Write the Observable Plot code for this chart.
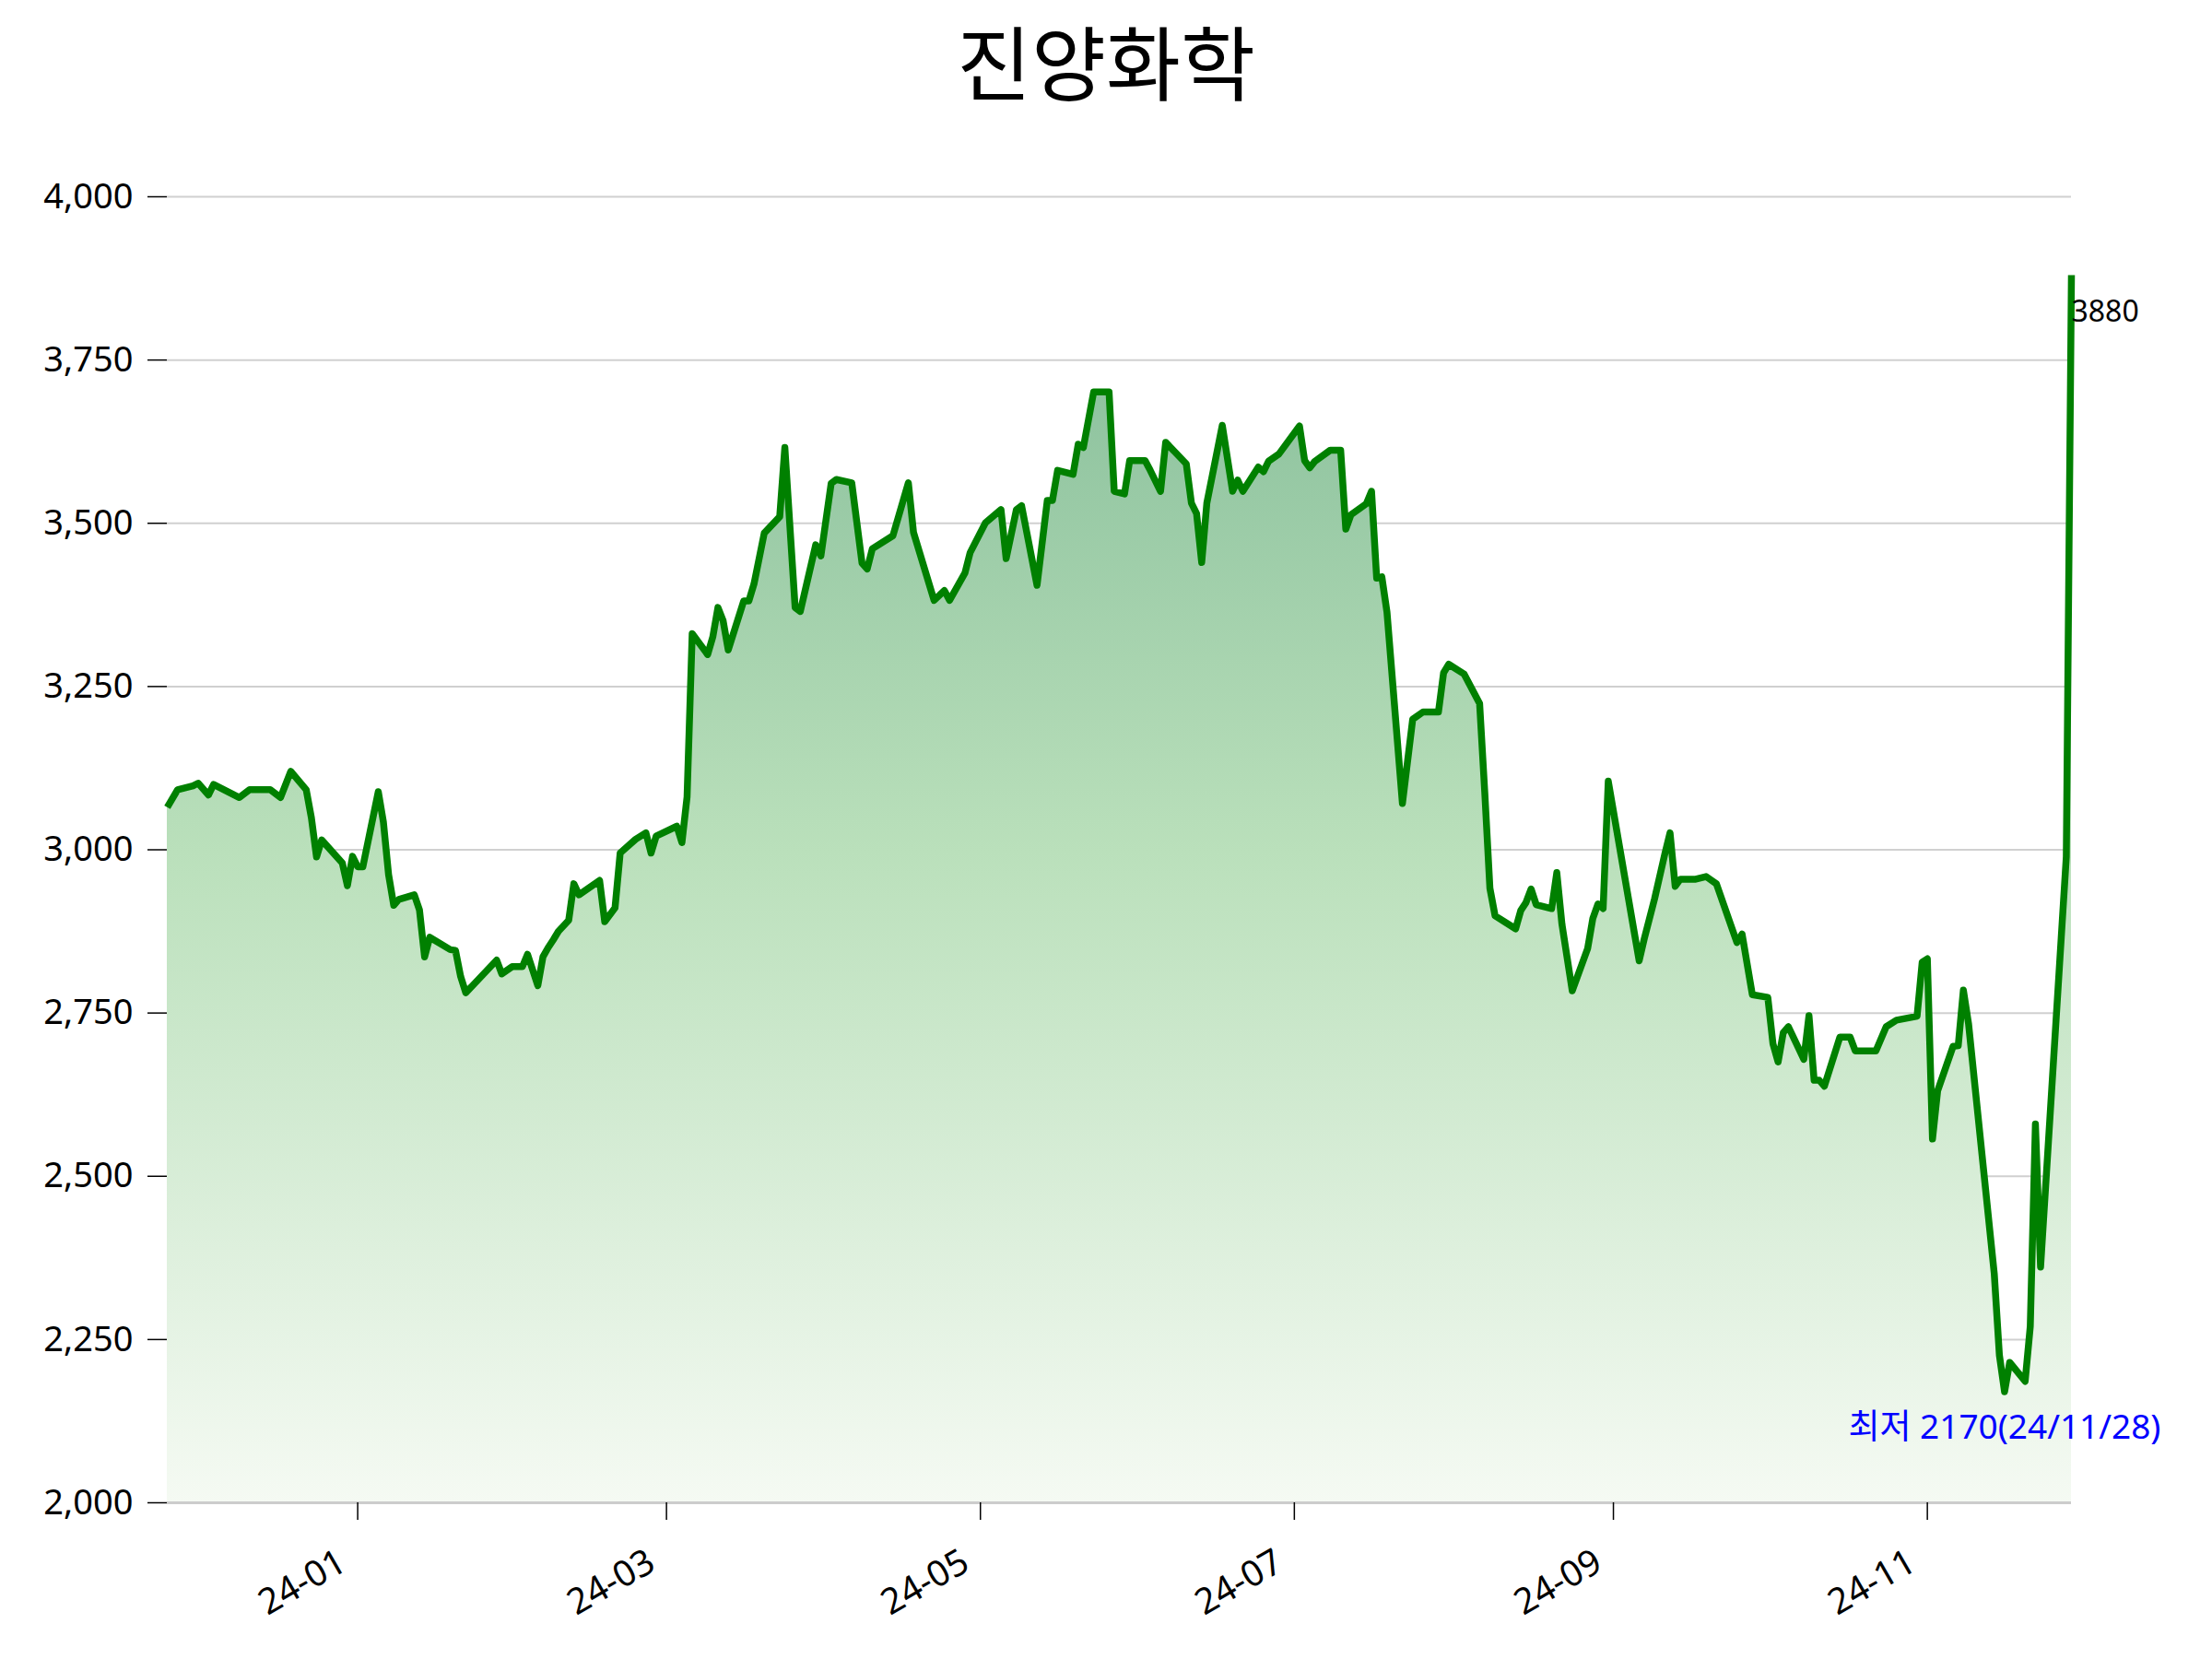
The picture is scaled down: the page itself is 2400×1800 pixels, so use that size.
<!DOCTYPE html>
<html><head><meta charset="utf-8">
<script src="https://cdn.jsdelivr.net/npm/d3@7"></script>
<script src="https://cdn.jsdelivr.net/npm/@observablehq/plot@0.6"></script>
<style>
body{margin:0;background:#fff;}
#title{width:2400px;height:130px;line-height:128px;text-align:center;font-family:"Noto Sans CJK KR",sans-serif;font-size:88px;color:#000;}
</style></head><body>
<div id="title">진양화학</div>
<div id="chart"></div>
<script>
const dates = ["2023-11-25","2023-11-27","2023-11-30","2023-12-01","2023-12-03","2023-12-04","2023-12-09","2023-12-11","2023-12-15","2023-12-17","2023-12-19","2023-12-22","2023-12-23","2023-12-24","2023-12-25","2023-12-29","2023-12-30","2023-12-31","2024-01-01","2024-01-02",
"2024-01-05","2024-01-06","2024-01-07","2024-01-08","2024-01-09","2024-01-12","2024-01-13","2024-01-14","2024-01-15","2024-01-19","2024-01-20","2024-01-21","2024-01-22",
"2024-01-28","2024-01-29","2024-01-31","2024-02-02","2024-02-03","2024-02-05","2024-02-06","2024-02-07","2024-02-08",
"2024-02-09","2024-02-11","2024-02-12","2024-02-13","2024-02-17","2024-02-18","2024-02-20","2024-02-21","2024-02-24","2024-02-26","2024-02-27","2024-02-28",
"2024-03-03","2024-03-04","2024-03-05","2024-03-06","2024-03-09","2024-03-10","2024-03-11","2024-03-12","2024-03-13","2024-03-16","2024-03-17","2024-03-18","2024-03-20","2024-03-23","2024-03-24","2024-03-26","2024-03-27","2024-03-30","2024-03-31",
"2024-04-02","2024-04-03","2024-04-06","2024-04-08","2024-04-09","2024-04-10","2024-04-14","2024-04-17","2024-04-18","2024-04-22","2024-04-24","2024-04-25","2024-04-28","2024-04-29",
"2024-05-02","2024-05-05","2024-05-06","2024-05-08","2024-05-09","2024-05-12","2024-05-14","2024-05-15","2024-05-16","2024-05-19","2024-05-20","2024-05-21","2024-05-23","2024-05-26","2024-05-27","2024-05-29","2024-05-30",
"2024-06-02","2024-06-03","2024-06-05","2024-06-06","2024-06-10","2024-06-11","2024-06-12","2024-06-13","2024-06-14","2024-06-17","2024-06-19","2024-06-20","2024-06-21","2024-06-24","2024-06-25","2024-06-26","2024-06-28",
"2024-07-02","2024-07-03","2024-07-04","2024-07-05","2024-07-08","2024-07-10","2024-07-11","2024-07-12","2024-07-15","2024-07-16","2024-07-17","2024-07-18","2024-07-19","2024-07-22","2024-07-24","2024-07-26","2024-07-29","2024-07-30","2024-07-31",
"2024-08-03","2024-08-06","2024-08-07","2024-08-08","2024-08-09","2024-08-13","2024-08-14","2024-08-15","2024-08-16","2024-08-17","2024-08-20","2024-08-21","2024-08-22","2024-08-24","2024-08-27","2024-08-28","2024-08-29","2024-08-30","2024-08-31",
"2024-09-06","2024-09-07","2024-09-09","2024-09-11","2024-09-12","2024-09-13","2024-09-14","2024-09-17","2024-09-19","2024-09-21","2024-09-25","2024-09-26","2024-09-28",
"2024-10-01","2024-10-02","2024-10-03","2024-10-04","2024-10-05","2024-10-08","2024-10-09","2024-10-10","2024-10-11","2024-10-12","2024-10-15","2024-10-17","2024-10-18","2024-10-22","2024-10-24","2024-10-26","2024-10-30","2024-10-31",
"2024-11-01","2024-11-02","2024-11-03","2024-11-06","2024-11-07","2024-11-08","2024-11-09","2024-11-14","2024-11-15","2024-11-16","2024-11-17","2024-11-20","2024-11-21","2024-11-22","2024-11-23","2024-11-28","2024-11-29"];

const prices = [3065,3092,3098,3102,3084,3100,3080,3092,3092,3080,3120,3092,3049,2989,3015,2980,2945,2990,2974,2974,
3089,3042,2962,2915,2924,2931,2908,2836,2866,2847,2846,2806,2781,
2831,2810,2821,2821,2840,2792,2836,2850,2862,
2875,2892,2948,2931,2953,2890,2911,2995,3016,3026,2995,3021,
3036,3011,3081,3331,3299,3326,3371,3351,3306,3381,3381,3407,3485,3510,3616,3371,3365,3467,3450,
3561,3567,3562,3439,3430,3461,3481,3562,3486,3382,3397,3382,3424,3455,
3501,3521,3446,3521,3527,3405,3535,3535,3581,3575,3621,3616,3701,3701,3549,3545,3596,
3596,3581,3549,3624,3591,3531,3515,3440,3531,3650,3549,3566,3549,3586,3579,3595,3606,
3649,3596,3585,3595,3612,3612,3491,3513,3530,3549,3416,3418,3364,3071,3200,3211,3211,3271,3284,
3269,3224,3088,2941,2899,2879,2907,2919,2940,2916,2910,2965,2886,2784,2849,2895,2917,2910,3105,
2830,2864,2925,2994,3026,2944,2955,2955,2959,2948,2858,2871,2778,
2774,2703,2675,2720,2729,2679,2746,2647,2647,2638,2713,2713,2692,2692,2729,2739,2745,2828,
2833,2557,2631,2699,2700,2785,2734,2351,2226,2170,2215,2186,2270,2580,2361,2989,3880];

const yTicks = [2000,2250,2500,2750,3000,3250,3500,3750,4000];
const xTickDates = ["2024-01-01","2024-03-01","2024-05-01","2024-07-01","2024-09-01","2024-11-01"];
const minLabelPrefix = "최저";
const minDateLabel = "24/11/28";

const data = dates.map((d, i) => ({date: new Date(d + "T00:00:00Z"), price: prices[i]}));
const last = data[data.length - 1];
const minRow = data.reduce((a, b) => (b.price < a.price ? b : a));
const xTicks = xTickDates.map(d => new Date(d + "T00:00:00Z"));

const chart = Plot.plot({
  width: 2400,
  height: 1670,
  marginTop: 83,
  marginBottom: 170,
  marginLeft: 181,
  marginRight: 153,
  style: {fontFamily: '"Noto Sans","Noto Sans CJK KR",sans-serif', fontSize: "38px", color: "#000", background: "#fff"},
  x: {type: "utc", domain: [data[0].date, last.date]},
  y: {domain: [2000, 4000]},
  marks: [
    Plot.gridY(yTicks, {stroke: "#d0d0d0", strokeOpacity: 1, strokeWidth: 2}),
    Plot.areaY(data, {x: "date", y1: 2000, y2: "price", fill: "url(#fillGrad)"}),
    Plot.ruleY([2000], {stroke: "#cccccc", strokeWidth: 3}),
    Plot.line(data, {x: "date", y: "price", stroke: "#008000", strokeWidth: 7.5, strokeLinejoin: "round", strokeLinecap: "butt"}),
    Plot.axisY(yTicks, {tickSize: 21, tickPadding: 16, fontSize: 38, tickFormat: d3.format(","), label: null, strokeWidth: 1.5}),
    Plot.axisX(xTicks, {tickSize: 19, tickFormat: () => "", label: null, strokeWidth: 1.5}),
    Plot.axisX(xTicks, {tickSize: 0, tickPadding: 61, dx: -16, tickRotate: -30, fontSize: 39, tickFormat: d3.utcFormat("%y-%m"), label: null}),
    Plot.text([last], {x: "date", y: "price", text: d => String(d.price), textAnchor: "start", dy: 40, fontSize: 32, fill: "#000"}),
    Plot.text([minRow], {x: "date", y: "price", text: d => `${minLabelPrefix} ${d.price}(${minDateLabel})`, textAnchor: "middle", dy: 39, fontSize: 37, fill: "#0000ff"})
  ]
});

d3.select(chart).insert("defs", ":first-child").html(
  '<linearGradient id="fillGrad" x1="0" y1="0" x2="0" y2="1">' +
  '<stop offset="0" stop-color="rgb(132,188,152)"/>' +
  '<stop offset="0.47" stop-color="rgb(186,224,187)"/>' +
  '<stop offset="1" stop-color="rgb(245,250,243)"/>' +
  '</linearGradient>');

document.getElementById("chart").appendChild(chart);
</script>
</body></html>
